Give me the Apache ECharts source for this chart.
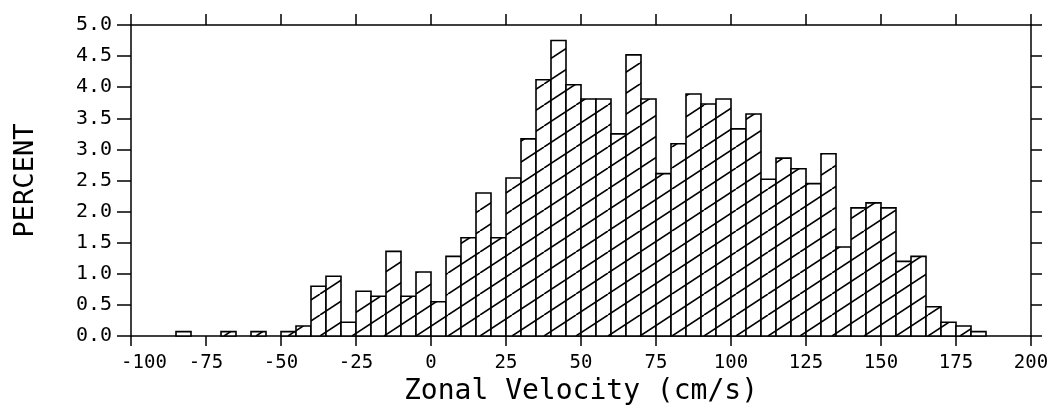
<!DOCTYPE html>
<html>
<head>
<meta charset="utf-8">
<script src="https://cdn.jsdelivr.net/npm/echarts@6/dist/echarts.min.js"></script>
<style>
html,body{margin:0;padding:0;background:#fff;}
#chart{width:1053px;height:413px;}
</style>
</head>
<body>
<div id="chart"></div>
<script>
// ---- data ----
const binWidth = 5; // cm/s
const binStart = [-85, -70, -60, -50, -45, -40, -35, -30, -25, -20, -15, -10, -5,
  0, 5, 10, 15, 20, 25, 30, 35, 40, 45, 50, 55, 60, 65, 70, 75, 80, 85, 90, 95,
  100, 105, 110, 115, 120, 125, 130, 135, 140, 145, 150, 155, 160, 165, 170, 175, 180];
const percent = [0.07, 0.07, 0.07, 0.07, 0.16, 0.80, 0.96, 0.22, 0.72, 0.64, 1.36, 0.64, 1.03,
  0.55, 1.28, 1.58, 2.30, 1.58, 2.54, 3.17, 4.12, 4.75, 4.04, 3.81, 3.81, 3.25, 4.52, 3.81, 2.61, 3.09, 3.89, 3.73, 3.81,
  3.33, 3.57, 2.52, 2.86, 2.69, 2.45, 2.93, 1.43, 2.06, 2.14, 2.06, 1.20, 1.28, 0.47, 0.22, 0.16, 0.07];
const xTicks = [-100, -75, -50, -25, 0, 25, 50, 75, 100, 125, 150, 175, 200];
const yTicks = [0.0, 0.5, 1.0, 1.5, 2.0, 2.5, 3.0, 3.5, 4.0, 4.5, 5.0];
const xTitle = 'Zonal Velocity (cm/s)';
const yTitle = 'PERCENT';

// ---- hatch pattern ----
function makeHatch() {
  const W = 32, H = 21;
  const c = document.createElement('canvas');
  c.width = W; c.height = H;
  const g = c.getContext('2d');
  g.fillStyle = '#fff';
  g.fillRect(0, 0, W, H);
  g.strokeStyle = '#000';
  g.lineWidth = 1.6;
  for (const dx of [-W, 0, W]) {
    g.beginPath();
    g.moveTo(dx, H);
    g.lineTo(dx + W, 0);
    g.stroke();
  }
  return c;
}
const hatch = { image: makeHatch(), repeat: 'repeat' };

const bins = binStart.map((s, i) => [s, s + binWidth, percent[i]]);

const mono = '"DejaVu Sans Mono", "Liberation Mono", monospace';
const lineStyle = { color: '#000', width: 1.5 };

const chart = echarts.init(document.getElementById('chart'), null, { renderer: 'canvas' });
chart.setOption({
  backgroundColor: '#fff',
  animation: false,
  grid: { left: 131, right: 22, top: 25, bottom: 77 },
  xAxis: [
    {
      type: 'value', position: 'bottom',
      min: xTicks[0], max: xTicks[xTicks.length - 1], interval: xTicks[1] - xTicks[0],
      axisLine: { onZero: false, lineStyle },
      axisTick: { inside: false, length: 10, lineStyle },
      splitLine: { show: false },
      axisLabel: {
        margin: 18, fontFamily: mono, fontSize: 19, color: '#000',
        formatter: v => v === xTicks[0] ? '{f|' + v + '}' : String(v),
        rich: { f: { fontFamily: mono, fontSize: 19, color: '#000', padding: [0, 0, 0, 26] } }
      },
      name: xTitle, nameLocation: 'middle', nameGap: 42,
      nameTextStyle: { fontFamily: mono, fontSize: 28, color: '#000' }
    },
    {
      type: 'value', position: 'top',
      min: xTicks[0], max: xTicks[xTicks.length - 1], interval: xTicks[1] - xTicks[0],
      axisLine: { onZero: false, lineStyle },
      axisTick: { inside: false, length: 11, lineStyle },
      splitLine: { show: false },
      axisLabel: { show: false }
    }
  ],
  yAxis: [
    {
      type: 'value', position: 'left',
      min: yTicks[0], max: yTicks[yTicks.length - 1], interval: yTicks[1] - yTicks[0],
      axisLine: { show: true, onZero: false, lineStyle },
      axisTick: { show: true, inside: false, length: 14, lineStyle },
      splitLine: { show: false },
      axisLabel: { margin: 19, fontFamily: mono, fontSize: 20, color: '#000', formatter: v => v.toFixed(1) },
      name: yTitle, nameLocation: 'middle', nameGap: 92, nameRotate: 90,
      nameTextStyle: { fontFamily: mono, fontSize: 27, color: '#000' }
    },
    {
      type: 'value', position: 'right',
      min: yTicks[0], max: yTicks[yTicks.length - 1], interval: yTicks[1] - yTicks[0],
      axisLine: { show: true, onZero: false, lineStyle },
      axisTick: { show: true, inside: false, length: 11, lineStyle },
      splitLine: { show: false },
      axisLabel: { show: false }
    }
  ],
  series: [{
    type: 'custom',
    xAxisIndex: 0, yAxisIndex: 0,
    encode: { x: [0, 1], y: 2 },
    data: bins,
    renderItem: function (params, api) {
      const p0 = api.coord([api.value(0), api.value(2)]);
      const p1 = api.coord([api.value(1), 0]);
      return {
        type: 'rect',
        shape: { x: p0[0], y: p0[1], width: p1[0] - p0[0], height: p1[1] - p0[1] },
        style: { fill: hatch, stroke: '#000', lineWidth: 1.6 }
      };
    }
  }]
});
</script>
</body>
</html>
